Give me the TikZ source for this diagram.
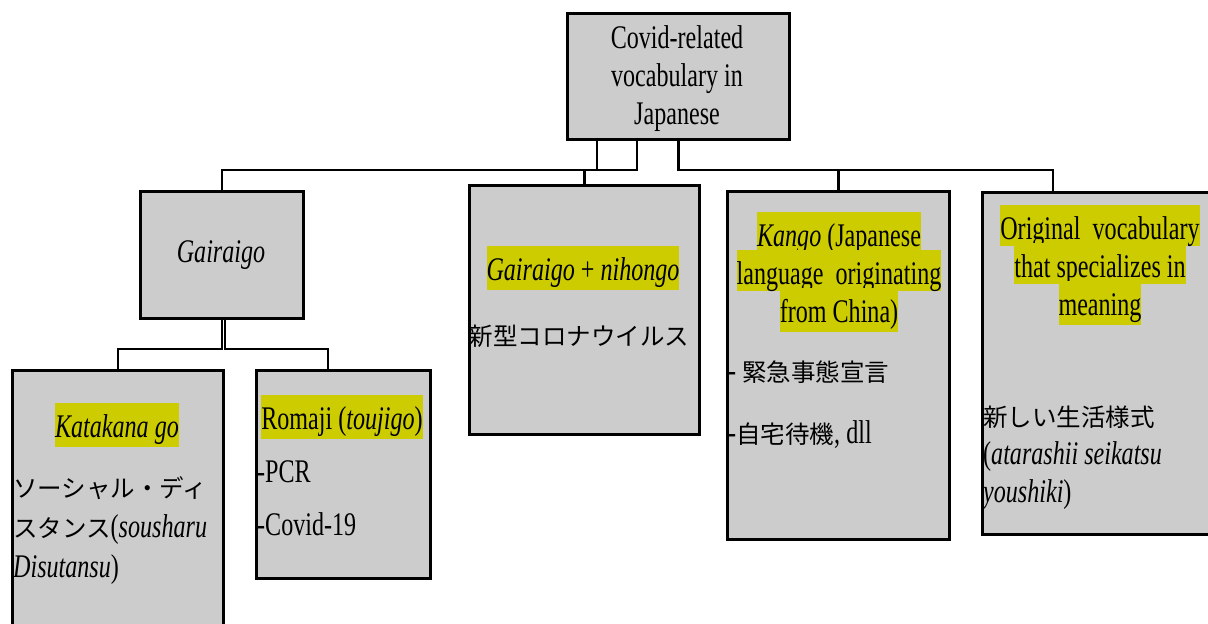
\documentclass[tikz,border=0pt]{standalone}
\usepackage{fontspec}
\setmainfont{Liberation Serif}[FakeStretch=0.73]
\newfontfamily\jp{Noto Sans CJK JP}
\usetikzlibrary{calc,backgrounds}
\definecolor{boxgray}{RGB}{204,204,204}
\definecolor{hly}{RGB}{204,204,0}
\newcommand{\hl}[1]{{\setlength{\fboxsep}{0pt}\colorbox{hly}{\rule[-10pt]{0pt}{44pt}#1}}}
\newcommand{\hla}[1]{{\setlength{\fboxsep}{0pt}\colorbox{hly}{\rule[-4pt]{0pt}{38pt}#1}}}
\newcommand{\stl}{\rule[-10pt]{0pt}{44pt}}
\newcommand{\jpt}[1]{{\jp\fontsize{24.5}{30}\selectfont #1}}
\newcommand{\myfs}[1]{\fontsize{33}{#1}\selectfont\lineskiplimit=-100pt\relax}
\begin{document}
\begin{tikzpicture}[x=1pt,y=-1pt,
  box/.style={draw=black, line width=2.8pt, fill=boxgray, anchor=north west, inner sep=0pt, rectangle},
  conn/.style={line width=2.2pt},
  txt/.style={inner sep=0pt, font=\myfs{38}},
]
\useasboundingbox (0,0) rectangle (1208,624);
\clip (0,0) rectangle (1208,624);
% boxes
\node[box, minimum width=222pt, minimum height=126pt] (top) at (566,12) {};
\node[box, minimum width=163pt, minimum height=127pt] (gai) at (139,190) {};
\node[box, minimum width=211pt, minimum height=300pt] (kata) at (11,369) {};
\node[box, minimum width=174pt, minimum height=208pt] (rom) at (255,369) {};
\node[box, minimum width=230pt, minimum height=249pt] (gn) at (468,184) {};
\node[box, minimum width=222pt, minimum height=348pt] (kango) at (726,190) {};
\node[box, minimum width=260pt, minimum height=342pt] (orig) at (981,191) {};
% connectors
\begin{scope}[on background layer]
\draw[conn] ($(top.south west)+(31,0)$) -- ++(0,29) -| (gai.north);
\draw[conn] ($(top.south west)+(71,0)$) -- ++(0,29) -| (gn.north);
\draw[conn] (top.south) -- ++(0,29) -| (kango.north);
\draw[conn] (top.south) -- ++(0,29) -| ($(orig.north west)+(72,0)$);
\draw[conn] (gai.south) -- ++(0,29) -| (kata.north);
\draw[conn] ($(gai.south)+(3,0)$) -- ++(0,29) -| ($(rom.north west)+(73,0)$);
\end{scope}
% texts
\node[txt, anchor=north, align=center] (t0) at (677,14) {\stl Covid-related\\\stl vocabulary in\\\stl Japanese};
\node[txt, anchor=base] (t1) at (221,262) {\textit{Gairaigo}};
\node[txt, anchor=north] (t2) at (117,403) {\hl{\textit{Katakana go}}};
\node[txt, anchor=north west, align=left, font=\myfs{40}] (t3) at (13,463) {\stl\jpt{ソーシャル・ディ}\\\stl\jpt{スタンス}(\textit{sousharu}\\\stl\textit{Disutansu})};
\node[txt, anchor=north] (t4) at (342,395) {\hl{Romaji (\textit{toujigo})}};
\node[txt, anchor=north west, align=left, font=\myfs{53}] (t5) at (257,448) {\stl-PCR\\\stl-Covid-19};
\node[txt, anchor=north] (t6) at (583,246) {\hl{\textit{Gairaigo} + \textit{nihongo}}};
\node[txt, anchor=base] (t7) at (579,345) {\jpt{新型コロナウイルス}};
\node[txt, anchor=north, align=center] (t8) at (839,212) {\hla{\textit{Kango} (Japanese}\\\hla{language\ \ originating}\\\hl{from China)}};
\node[txt, anchor=north west, align=left, font=\myfs{62}] (t9) at (728,347) {\stl- \jpt{緊急事態宣言}\\\stl-\jpt{自宅待機}, dll};
\node[txt, anchor=north, align=center] (t10) at (1100,205) {\hla{Original\ \ vocabulary}\\\hla{that specializes\ in}\\\hl{meaning}};
\node[txt, anchor=north west, align=left, font=\myfs{38}] (t11) at (983,392) {\stl\jpt{新しい生活様式}\\\stl(\textit{atarashii seikatsu}\\\stl\textit{youshiki})};
\end{tikzpicture}
\end{document}
